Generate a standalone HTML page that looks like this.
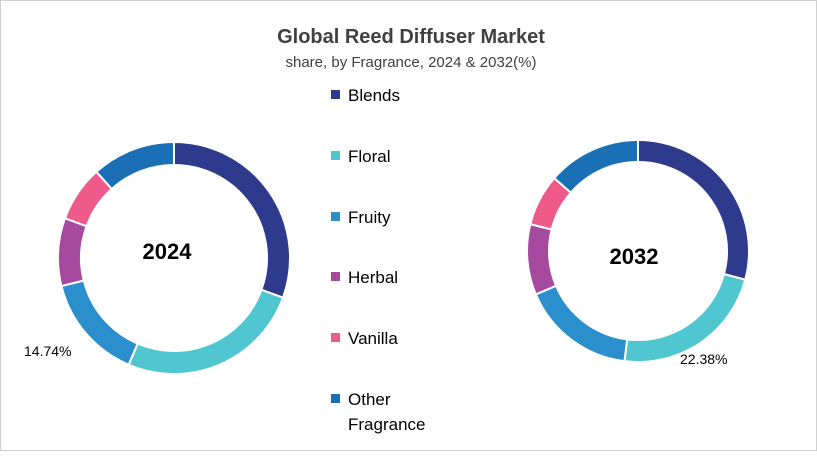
<!DOCTYPE html>
<html><head><meta charset="utf-8"><style>
html,body{margin:0;padding:0;background:#fff}
body{width:817px;height:451px;overflow:hidden;font-family:"Liberation Sans",sans-serif}
</style></head><body>
<svg id="s" width="817" height="451" xmlns="http://www.w3.org/2000/svg">
<rect x="0.5" y="0.5" width="816" height="450" fill="#fff" stroke="#d0d0d0"/>
<text x="411" y="43" text-anchor="middle" font-size="20" font-weight="bold" fill="#404040">Global Reed Diffuser Market</text>
<text x="411" y="67" text-anchor="middle" font-size="15" fill="#404040">share, by Fragrance, 2024 &amp; 2032(%)</text>
<g font-size="17" fill="#000">
<rect x="331" y="90" width="9" height="9" fill="#2e3a8c"/><text x="348" y="101">Blends</text>
<rect x="331" y="151" width="9" height="9" fill="#4fc6d0"/><text x="348" y="162">Floral</text>
<rect x="331" y="212" width="9" height="9" fill="#2b8fce"/><text x="348" y="223">Fruity</text>
<rect x="331" y="272" width="9" height="9" fill="#a54a9e"/><text x="348" y="283">Herbal</text>
<rect x="331" y="333" width="9" height="9" fill="#ee5a8a"/><text x="348" y="344">Vanilla</text>
<rect x="331" y="394" width="9" height="9" fill="#1a6fb5"/><text x="348" y="405">Other</text>
<text x="348" y="430">Fragrance</text>
</g>
<g id="d"></g>
<text x="167" y="259" text-anchor="middle" font-size="22" font-weight="bold">2024</text>
<text x="634" y="264" text-anchor="middle" font-size="22" font-weight="bold">2032</text>
<text x="24" y="356" font-size="14">14.74%</text>
<text x="680" y="364" font-size="14">22.38%</text>
</svg>
<script>
var cols=["#2e3a8c","#4fc6d0","#2b8fce","#a54a9e","#ee5a8a","#1a6fb5"];
function donut(cx,cy,R,r,ends){
  var g=document.getElementById("d"),s=0,h="";
  function p(a,rad){a=a*Math.PI/180;return (cx+rad*Math.sin(a)).toFixed(2)+","+(cy-rad*Math.cos(a)).toFixed(2);}
  ends.forEach(function(e,i){
    var l=(e-s)>180?1:0;
    h+='<path d="M'+p(s,R)+' A'+R+','+R+' 0 '+l+' 1 '+p(e,R)+' L'+p(e,r)+' A'+r+','+r+' 0 '+l+' 0 '+p(s,r)+' Z" fill="'+cols[i]+'" stroke="#fff" stroke-width="2"/>';
    s=e;
  });
  g.innerHTML+=h;
}
donut(174,258,116,93,[110,203,256,290,318,360]);
donut(638,251,111,89,[105,187,247,284,311,360]);
</script>
</body></html>
